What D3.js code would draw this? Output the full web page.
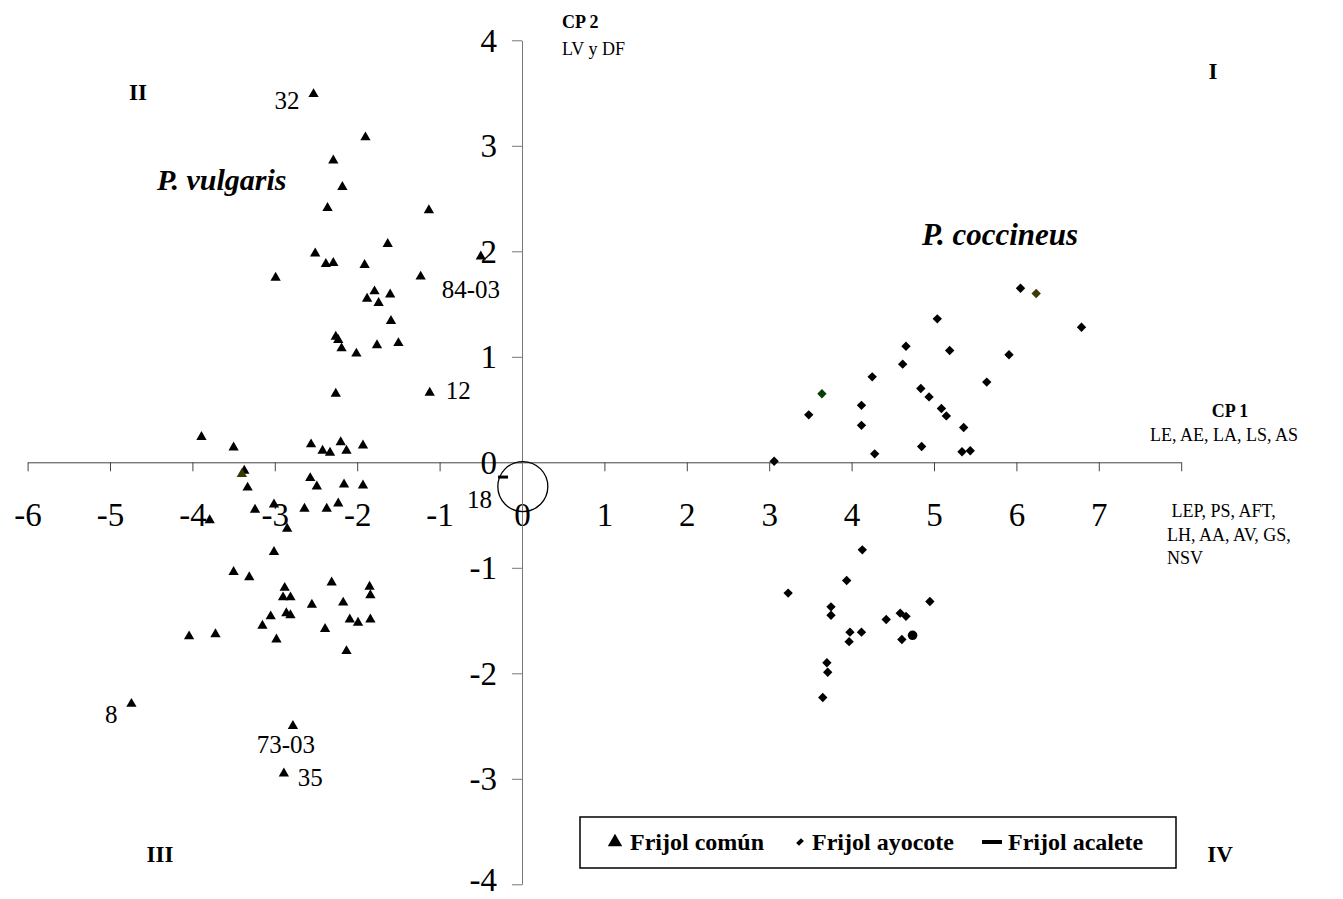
<!DOCTYPE html>
<html>
<head>
<meta charset="utf-8">
<script src="https://cdn.jsdelivr.net/npm/d3@7"></script>
<style>
  body { margin: 0; background: #fff; }
  svg { display: block; font-family: "Liberation Serif", "Times New Roman", serif; }
</style>
</head>
<body>
<div id="chart"></div>
<script>
// ejes
const xTicks = [-6, -5, -4, -3, -2, -1, 0, 1, 2, 3, 4, 5, 6, 7, 8];
const xTickLabels = [-6, -5, -4, -3, -2, -1, 0, 1, 2, 3, 4, 5, 6, 7];
const yTicks = [-4, -3, -2, -1, 0, 1, 2, 3, 4];

// Frijol común (P. vulgaris) [CP1, CP2]
const frijolComun = [
  [-2.53, 3.49], [-1.90, 3.08], [-2.29, 2.86], [-2.18, 2.61], [-2.36, 2.41], [-1.13, 2.39],
  [-1.63, 2.07], [-2.51, 1.98], [-2.38, 1.88], [-2.29, 1.89], [-1.91, 1.87], [-2.99, 1.75],
  [-1.23, 1.76], [-0.50, 1.95], [-1.79, 1.62], [-1.60, 1.59], [-1.88, 1.55], [-1.74, 1.51],
  [-1.59, 1.34], [-2.26, 1.19], [-2.23, 1.16], [-2.19, 1.08], [-2.01, 1.03], [-1.76, 1.11],
  [-1.50, 1.13], [-2.26, 0.65], [-1.12, 0.66], [-3.89, 0.24], [-3.50, 0.14], [-2.56, 0.17],
  [-2.42, 0.11], [-2.33, 0.09], [-2.20, 0.19], [-2.13, 0.11], [-1.93, 0.16], [-3.37, -0.08],
  [-3.33, -0.24], [-2.57, -0.15], [-2.49, -0.23], [-2.16, -0.21], [-1.93, -0.22], [-3.24, -0.45],
  [-3.01, -0.40], [-2.64, -0.44], [-2.37, -0.44], [-2.23, -0.39], [-3.79, -0.55], [-2.85, -0.63],
  [-3.01, -0.85], [-3.50, -1.04], [-3.31, -1.09], [-2.31, -1.14], [-1.85, -1.18], [-1.84, -1.26],
  [-2.88, -1.19], [-2.90, -1.28], [-2.81, -1.28], [-2.55, -1.35], [-2.17, -1.33], [-2.86, -1.43],
  [-2.81, -1.45], [-3.05, -1.46], [-3.15, -1.55], [-2.09, -1.49], [-1.99, -1.52], [-1.84, -1.49],
  [-2.39, -1.58], [-4.04, -1.65], [-3.72, -1.63], [-2.98, -1.68], [-2.13, -1.79],
  [-4.74, -2.29], [-2.78, -2.50], [-2.89, -2.95]
];
const frijolComunOlivo = [[-3.40, -0.11]];

// Frijol ayocote (P. coccineus)
const frijolAyocote = [
  [3.06, 0.01], [3.48, 0.45], [4.12, 0.54], [4.12, 0.35], [4.28, 0.08], [4.25, 0.81],
  [4.62, 0.93], [4.66, 1.10], [4.84, 0.70], [4.94, 0.62], [4.85, 0.15], [5.04, 1.36],
  [5.19, 1.06], [5.09, 0.51], [5.15, 0.44], [5.36, 0.33], [5.34, 0.10], [5.44, 0.11],
  [5.64, 0.76], [5.91, 1.02], [6.05, 1.65], [6.79, 1.28],
  [4.13, -0.83], [3.94, -1.12], [3.23, -1.24], [3.75, -1.37], [3.75, -1.45], [4.95, -1.32],
  [4.42, -1.49], [4.59, -1.43], [4.66, -1.46], [3.98, -1.61], [4.12, -1.61], [3.97, -1.70],
  [4.61, -1.68], [3.70, -1.90], [3.71, -1.99], [3.65, -2.23]
];
const frijolAyocoteVerde = [[3.64, 0.65]];
const frijolAyocoteOlivo = [[6.24, 1.60]];
const otroPunto = [[4.74, -1.64]];

// Frijol acalete
const frijolAcalete = [[-0.23, -0.14]];

// etiquetas de colectas
const labelTexts = ["32", "84-03", "12", "18", "8", "73-03", "35"];
const labelPoints = [[-2.53, 3.49], [-1.23, 1.76], [-1.12, 0.66], [-0.23, -0.14], [-4.74, -2.29], [-2.78, -2.50], [-2.89, -2.95]];

const legendNames = ["Frijol común", "Frijol ayocote", "Frijol acalete"];

const W = 1343, H = 899;

const svg = d3.select("#chart").append("svg")
  .attr("width", W)
  .attr("height", H);

const x = d3.scaleLinear().domain([-6, 8]).range([27.6, 1181.2]);
const y = d3.scaleLinear().domain([-4, 4]).range([884.3, 40.3]);

// eje X
const gx = svg.append("g")
  .attr("transform", `translate(0,${y(0)})`)
  .call(d3.axisBottom(x)
    .tickValues(xTicks)
    .tickSize(9)
    .tickSizeOuter(0)
    .tickPadding(31)
    .tickFormat(d => xTickLabels.includes(d) ? String(d) : ""));

// eje Y
const gy = svg.append("g")
  .attr("transform", `translate(${x(0)},0)`)
  .call(d3.axisLeft(y)
    .tickValues(yTicks)
    .tickSize(10)
    .tickSizeOuter(0)
    .tickPadding(15)
    .tickFormat(d => String(d)));

[gx, gy].forEach(g => {
  g.selectAll("text")
    .style("font-family", "Liberation Serif")
    .style("font-size", "33px")
    .attr("fill", "#000");
});
// la etiqueta -4 queda al borde inferior: se sube un poco
gy.selectAll("text").attr("dy", d => d === -4 ? "0.2em" : "0.33em");
gx.select(".domain").attr("stroke", "#444");
gx.selectAll(".tick line").attr("stroke", "#444");
gy.select(".domain").attr("stroke", "#777");
gy.selectAll(".tick line").attr("stroke", "#777");

// círculo alrededor del origen
svg.append("circle")
  .attr("cx", x(0.01))
  .attr("cy", y(-0.23))
  .attr("r", 25)
  .attr("fill", "none")
  .attr("stroke", "#000")
  .attr("stroke-width", 1.3);

const tri = d3.symbol(d3.symbolTriangle, 46);
const sq = d3.symbol(d3.symbolSquare, 44);

function drawTriangles(data, color) {
  svg.append("g").selectAll("path")
    .data(data)
    .enter()
    .append("path")
    .attr("d", tri)
    .attr("transform", d => `translate(${x(d[0])},${y(d[1])})`)
    .attr("fill", color);
}

function drawDiamonds(data, color) {
  svg.append("g").selectAll("path")
    .data(data)
    .enter()
    .append("path")
    .attr("d", sq)
    .attr("transform", d => `translate(${x(d[0])},${y(d[1])}) rotate(45)`)
    .attr("fill", color);
}

drawTriangles(frijolComun, "#000");
drawTriangles(frijolComunOlivo, "#3a3800");
drawDiamonds(frijolAyocote, "#000");
drawDiamonds(frijolAyocoteVerde, "#0a3d0a");
drawDiamonds(frijolAyocoteOlivo, "#3f3a05");

svg.append("g").selectAll("circle")
  .data(otroPunto)
  .enter()
  .append("circle")
  .attr("cx", d => x(d[0]))
  .attr("cy", d => y(d[1]))
  .attr("r", 4.8)
  .attr("fill", "#000");

svg.append("g").selectAll("rect")
  .data(frijolAcalete)
  .enter()
  .append("rect")
  .attr("x", d => x(d[0]) - 5)
  .attr("y", d => y(d[1]) - 1.5)
  .attr("width", 10)
  .attr("height", 3)
  .attr("fill", "#000");

// etiquetas de puntos
const labelOffsets = [
  { dx: -14, dy: 15, anchor: "end" },
  { dx: 21, dy: 21, anchor: "start" },
  { dx: 16, dy: 6, anchor: "start" },
  { dx: -11, dy: 31, anchor: "end" },
  { dx: -14, dy: 19, anchor: "end" },
  { dx: -7, dy: 27, anchor: "middle" },
  { dx: 14, dy: 12, anchor: "start" }
];

svg.append("g").selectAll("text")
  .data(labelTexts)
  .enter()
  .append("text")
  .attr("x", (d, i) => x(labelPoints[i][0]) + labelOffsets[i].dx)
  .attr("y", (d, i) => y(labelPoints[i][1]) + labelOffsets[i].dy)
  .attr("text-anchor", (d, i) => labelOffsets[i].anchor)
  .style("font-size", "25px")
  .text(d => d);

// nombres de especies
svg.append("text")
  .attr("x", 157)
  .attr("y", 190)
  .style("font-size", "30px")
  .style("font-weight", "bold")
  .style("font-style", "italic")
  .text("P. vulgaris");

svg.append("text")
  .attr("x", 922)
  .attr("y", 245)
  .style("font-size", "31px")
  .style("font-weight", "bold")
  .style("font-style", "italic")
  .text("P. coccineus");

// cuadrantes
const quadrants = [
  { t: "II", x: 138, y: 100 },
  { t: "I", x: 1213, y: 79 },
  { t: "III", x: 160, y: 862 },
  { t: "IV", x: 1220, y: 862 }
];
svg.append("g").selectAll("text")
  .data(quadrants)
  .enter()
  .append("text")
  .attr("x", d => d.x)
  .attr("y", d => d.y)
  .attr("text-anchor", "middle")
  .style("font-size", "23px")
  .style("font-weight", "bold")
  .text(d => d.t);

// títulos de ejes
svg.append("text")
  .attr("x", 562).attr("y", 28)
  .style("font-size", "18px").style("font-weight", "bold")
  .text("CP 2");
svg.append("text")
  .attr("x", 562).attr("y", 55)
  .style("font-size", "18px")
  .text("LV y DF");

svg.append("text")
  .attr("x", 1230).attr("y", 417)
  .attr("text-anchor", "middle")
  .style("font-size", "18px").style("font-weight", "bold")
  .text("CP 1");
svg.append("text")
  .attr("x", 1224).attr("y", 441)
  .attr("text-anchor", "middle")
  .style("font-size", "18px")
  .text("LE, AE, LA, LS, AS");

const cpNeg = ["\u00a0LEP, PS, AFT,", "LH, AA, AV, GS,", "NSV"];
svg.append("g").selectAll("text")
  .data(cpNeg)
  .enter()
  .append("text")
  .attr("x", 1167)
  .attr("y", (d, i) => 517 + i * 23.5)
  .style("font-size", "18px")
  .text(d => d);

// leyenda
const legend = svg.append("g");
legend.append("rect")
  .attr("x", 580).attr("y", 817)
  .attr("width", 596).attr("height", 51)
  .attr("fill", "#fff")
  .attr("stroke", "#000")
  .attr("stroke-width", 1.5);

const legendX = [615, 800, 992];
const legendY = 842;

legend.append("path")
  .attr("d", d3.symbol(d3.symbolTriangle, 90))
  .attr("transform", `translate(${legendX[0]},${legendY})`)
  .attr("fill", "#000");
legend.append("path")
  .attr("d", d3.symbol(d3.symbolSquare, 30))
  .attr("transform", `translate(${legendX[1]},${legendY}) rotate(45) scale(0.75,1.25)`)
  .attr("fill", "#000");
legend.append("rect")
  .attr("x", legendX[2] - 10).attr("y", legendY - 2)
  .attr("width", 20).attr("height", 4)
  .attr("fill", "#000");

legend.selectAll(".ltext")
  .data(legendNames)
  .enter()
  .append("text")
  .attr("class", "ltext")
  .attr("x", (d, i) => legendX[i] + [15, 12, 16][i])
  .attr("y", legendY + 8)
  .style("font-size", "24px")
  .style("font-weight", "bold")
  .text(d => d);
</script>
</body>
</html>
